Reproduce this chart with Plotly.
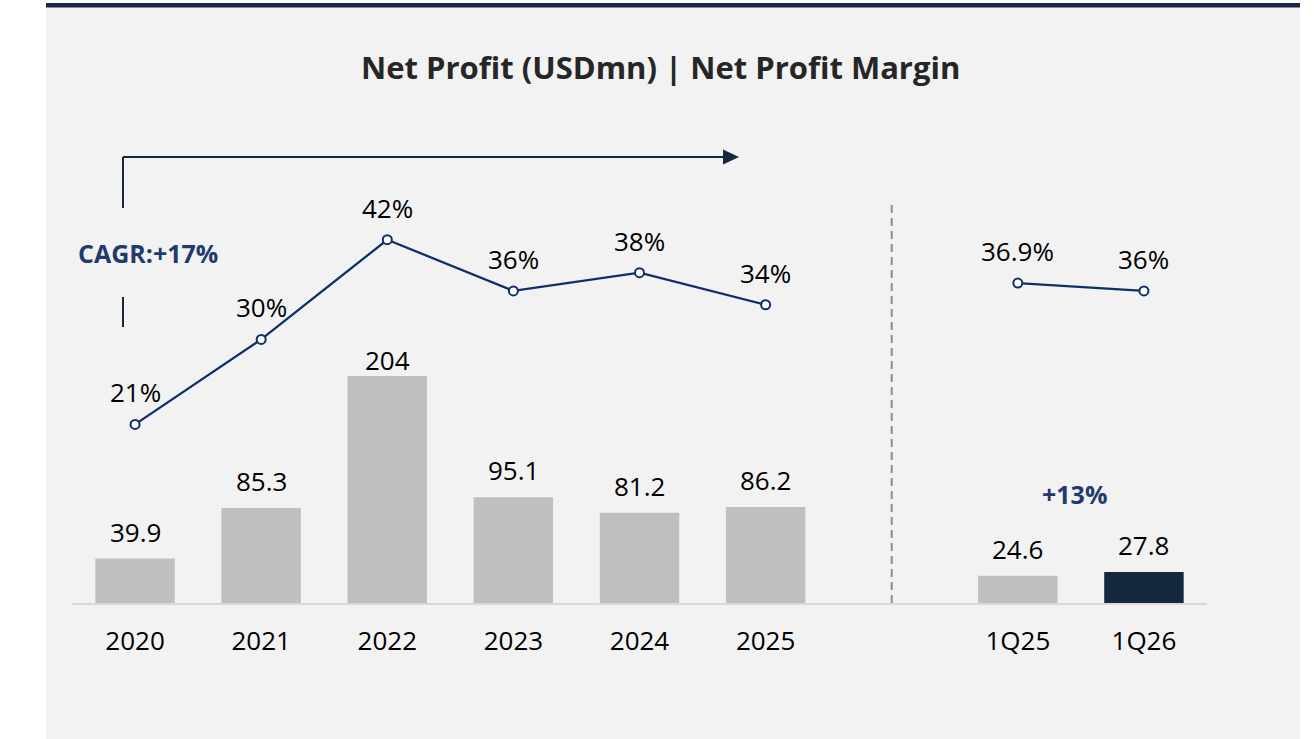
import plotly.graph_objects as go

# ---------------- data ----------------
categories = ["2020", "2021", "2022", "2023", "2024", "2025", "1Q25", "1Q26"]
net_profit = [39.9, 85.3, 204, 95.1, 81.2, 86.2, 24.6, 27.8]
profit_labels = ["39.9", "85.3", "204", "95.1", "81.2", "86.2", "24.6", "27.8"]
margin = [20.6, 30.4, 41.9, 36.0, 38.1, 34.4, 36.9, 36.0]
margin_labels = ["21%", "30%", "42%", "36%", "38%", "34%", "36.9%", "36%"]
cagr_text = "CAGR:+17%"
growth_text = "+13%"
title_text = "Net Profit (USDmn) | Net Profit Margin"

# ---------------- layout helpers ----------------
W, H = 1314, 739
L, R = 72, 1207          # plot area left/right in px
T, B = 100, 603          # plot area top/bottom in px
FONT = "Open Sans"
NAVY_TXT = "#1f3a6e"
LINE_NAVY = "#0d2f6b"
DARK = "#16283f"

def px(x):
    return (x - L) / (R - L)

def py(y):
    return (B - y) / (B - T)

# positions: annual 0..5, gap at 6, quarterly 7..8
annual_n = 6
pos = list(range(annual_n)) + [annual_n + 1 + i for i in range(len(categories) - annual_n)]
sep_pos = annual_n

bar_colors = ["#bfbfbf"] * (len(categories) - 1) + ["#15283e"]

fig = go.Figure()

fig.add_trace(go.Bar(
    x=pos, y=net_profit, marker=dict(color=bar_colors, line=dict(width=0)),
    width=0.63, hoverinfo="skip", showlegend=False,
))

# margin lines (two segments)
seg_ranges = [(0, annual_n), (annual_n, len(categories))]
for a, b in seg_ranges:
    fig.add_trace(go.Scatter(
        x=pos[a:b], y=margin[a:b], yaxis="y2", mode="lines+markers",
        line=dict(color=LINE_NAVY, width=2.3),
        marker=dict(symbol="circle", size=9, color="#ffffff",
                    line=dict(color=LINE_NAVY, width=2)),
        hoverinfo="skip", showlegend=False, cliponaxis=False,
    ))

annotations = []
label_shift = {"2022": 16}
for c, p, v, t in zip(categories, pos, net_profit, profit_labels):
    annotations.append(dict(
        x=p, y=v, xref="x", yref="y", text=t, showarrow=False,
        yanchor="middle", yshift=label_shift.get(c, 27),
        font=dict(family=FONT, size=26, color="#000000"),
    ))
for p, v, t in zip(pos, margin, margin_labels):
    annotations.append(dict(
        x=p, y=v, xref="x", yref="y2", text=t, showarrow=False,
        yanchor="middle", yshift=32,
        font=dict(family=FONT, size=26, color="#000000"),
    ))

# title
annotations.append(dict(
    x=px(661), y=py(67), xref="paper", yref="paper", text="<b>%s</b>" % title_text,
    showarrow=False, xanchor="center", yanchor="middle",
    font=dict(family=FONT, size=31, color="#262626"),
))
# CAGR
annotations.append(dict(
    x=px(148), y=py(253), xref="paper", yref="paper", text="<b>%s</b>" % cagr_text,
    showarrow=False, xanchor="center", yanchor="middle",
    font=dict(family=FONT, size=25, color=NAVY_TXT),
))
# growth
annotations.append(dict(
    x=px(1074), y=py(494), xref="paper", yref="paper", text="<b>%s</b>" % growth_text,
    showarrow=False, xanchor="center", yanchor="middle",
    font=dict(family=FONT, size=25, color=NAVY_TXT),
))

shapes = [
    # grey panel
    dict(type="rect", xref="paper", yref="paper", x0=px(46), x1=px(1300), y0=py(739), y1=py(7),
         fillcolor="#f2f2f2", line=dict(width=0), layer="below"),
    # top navy strip
    dict(type="rect", xref="paper", yref="paper", x0=px(46), x1=px(1300), y0=py(7.5), y1=py(3),
         fillcolor=DARK, line=dict(width=0), layer="below"),
    # separator dashed line
    dict(type="line", xref="x", yref="paper", x0=sep_pos, x1=sep_pos, y0=0, y1=py(203),
         line=dict(color="#8c8c8c", width=2, dash="8px,5px")),
    # CAGR bracket
    dict(type="line", xref="paper", yref="paper", x0=px(123), x1=px(123), y0=py(157), y1=py(208),
         line=dict(color=DARK, width=2)),
    dict(type="line", xref="paper", yref="paper", x0=px(123), x1=px(123), y0=py(297), y1=py(327),
         line=dict(color=DARK, width=2)),
    dict(type="line", xref="paper", yref="paper", x0=px(123), x1=px(724), y0=py(157), y1=py(157),
         line=dict(color=DARK, width=2)),
    dict(type="path", xref="paper", yref="paper",
         path="M %f,%f L %f,%f L %f,%f Z" % (px(723), py(149.5), px(739), py(157), px(723), py(164.5)),
         fillcolor=DARK, line=dict(color=DARK, width=0)),
]

fig.update_layout(
    width=W, height=H,
    margin=dict(l=L, r=W - R, t=T, b=H - B, pad=0),
    paper_bgcolor="#ffffff", plot_bgcolor="rgba(0,0,0,0)",
    font=dict(family=FONT, color="#000000"),
    bargap=0.37,
    xaxis=dict(range=[-0.5, len(categories) + 0.5], tickvals=pos, ticktext=categories,
               showgrid=False, zeroline=False, showline=True, linecolor="#d9d9d9", linewidth=2,
               ticks="", ticklabelstandoff=14, tickfont=dict(family=FONT, size=26, color="#000000"),
               fixedrange=True),
    yaxis=dict(range=[0, (B - T) / (227 / 204)], visible=False, showgrid=False, zeroline=False,
               fixedrange=True),
    yaxis2=dict(range=[0, (B - T) / 8.67], overlaying="y", visible=False, showgrid=False,
                zeroline=False, fixedrange=True),
    annotations=annotations, shapes=shapes,
    showlegend=False,
)

fig.write_html("out.html", config={"displayModeBar": False},
               post_script="document.body.style.margin='0';document.body.style.overflow='hidden';")
